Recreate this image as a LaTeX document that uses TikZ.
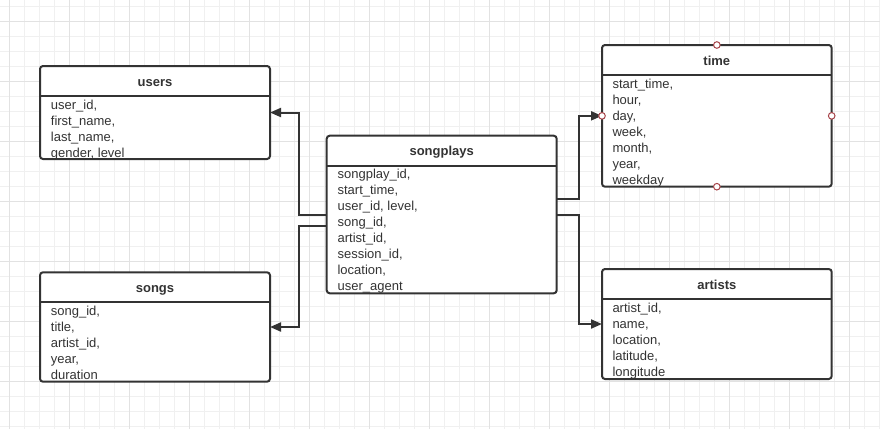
\documentclass[tikz,border=0pt]{standalone}
\usepackage{fontspec}
\setmainfont{Liberation Sans}
\usetikzlibrary{arrows.meta}
\definecolor{inkgrey}{HTML}{333333}
\definecolor{gridlight}{HTML}{F0F0F0}
\definecolor{gridmajor}{HTML}{E2E2E2}
\definecolor{portred}{HTML}{A8454A}

\begin{document}
\begin{tikzpicture}[x=1pt, y=-1pt, > = {Triangle[length=11pt,width=9pt]},
	tablebox/.style={draw=inkgrey, line width=2pt, rounded corners=3pt, fill=white, inner sep=0pt, outer sep=0pt},
	title/.style={font=\fontsize{13}{16}\selectfont\bfseries, text=inkgrey, anchor=base, inner sep=0pt},
	fields/.style={font=\fontsize{13}{16}\selectfont, text=inkgrey, align=left, anchor=base west, inner sep=0pt},
	conn/.style={->, draw=inkgrey, line width=2pt},
	minorgrid/.style={draw=gridlight, line width=1pt},
	majorgrid/.style={draw=gridmajor, line width=1pt},
	port/.style={circle, draw=portred, fill=white, line width=1pt, minimum size=6.6pt, inner sep=0pt}]
	\useasboundingbox[fill=white] (0,0) rectangle (880,429);
	
	% background grid
	\foreach \gx in {0,...,58} \draw[minorgrid] ({9.3+15*\gx},0) -- ++(0,429);
	\foreach \gy in {0,...,28} \draw[minorgrid] (0,{6.7+15*\gy}) -- ++(880,0);
	\foreach \gx in {0,...,14} \draw[majorgrid] ({9.3+60*\gx},0) -- ++(0,429);
	\foreach \gy in {0,...,6} \draw[majorgrid] (0,{21.7+60*\gy}) -- ++(880,0);
	
	% tables
	\node[tablebox, minimum width=230pt, minimum height=93pt] (users) at (155,112.5) {};
	\node[tablebox, minimum width=230pt, minimum height=109.4pt] (songs) at (155,327) {};
	\node[tablebox, minimum width=230pt, minimum height=157.6pt] (songplays) at (441.7,214.5) {};
	\node[tablebox, minimum width=229.7pt, minimum height=141.7pt] (time) at (716.85,115.85) {};
	\node[tablebox, minimum width=229.7pt, minimum height=110pt] (artists) at (716.85,324) {};
	
	\foreach \t in {users,songs,songplays,time,artists}
		\draw[draw=inkgrey, line width=2pt] ([yshift=-30pt]\t.north west) -- ([yshift=-30pt]\t.north east);
	
	\node[title] (users-title) at ([yshift=-20pt]users.north) {users};
	\node[title] (songs-title) at ([yshift=-20pt]songs.north) {songs};
	\node[title] (songplays-title) at ([yshift=-20pt]songplays.north) {songplays};
	\node[title] (time-title) at ([yshift=-20pt]time.north) {time};
	\node[title] (artists-title) at ([yshift=-20pt]artists.north) {artists};
	
	% base anchor sits on the last line: 43 + 16 per extra line
	\node[fields] (users-fields) at ([xshift=10.7pt,yshift=-91pt]users.north west)
		{user\_id,\\first\_name,\\last\_name,\\gender, level};
	\node[fields] (songs-fields) at ([xshift=10.7pt,yshift=-107pt]songs.north west)
		{song\_id,\\title,\\artist\_id,\\year,\\duration};
	\node[fields] (songplays-fields) at ([xshift=10.7pt,yshift=-155pt]songplays.north west)
		{songplay\_id,\\start\_time,\\user\_id, level,\\song\_id,\\artist\_id,\\session\_id,\\location,\\user\_agent};
	\node[fields] (time-fields) at ([xshift=10.3pt,yshift=-139pt]time.north west)
		{start\_time,\\hour,\\day,\\week,\\month,\\year,\\weekday};
	\node[fields] (artists-fields) at ([xshift=10.3pt,yshift=-107pt]artists.north west)
		{artist\_id,\\name,\\location,\\latitude,\\longitude};
	
	% connectors
	\draw[conn] (songplays.west) -- ++(-27.7,0) |- (users.east);
	\draw[conn] ([yshift=-11pt]songplays.west) -- ++(-27.7,0) |- (songs.east);
	\draw[conn] ([yshift=15.5pt]songplays.east) -- ++(22.6,0) |- (time.west);
	\draw[conn] (songplays.east) -- ++(22.6,0) |- (artists.west);
	
	% connection points
	\node[port] (time-n) at (time.north) {};
	\node[port] (time-s) at (time.south) {};
	\node[port] (time-w) at (time.west) {};
	\node[port] (time-e) at (time.east) {};
\end{tikzpicture}
\end{document}
